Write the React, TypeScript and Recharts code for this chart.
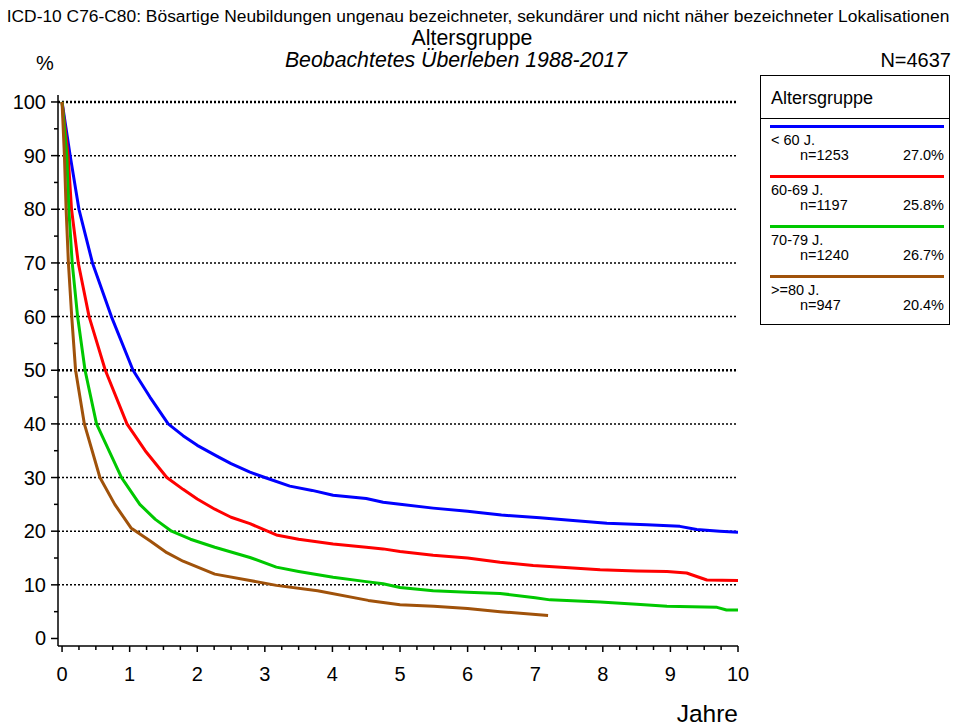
import React from 'react';
import { LineChart, Line, XAxis, YAxis, ReferenceLine } from 'recharts';

const FONT = '"Liberation Sans", Arial, Helvetica, sans-serif';

const tUnder60 = [0, 0.12, 0.25, 0.45, 0.73, 1.05, 1.3, 1.57, 1.79, 2.0, 2.29, 2.5, 2.78, 3.0, 3.37, 3.7, 4.01, 4.5, 4.75, 5.0, 5.49, 6.0, 6.23, 6.5, 7.07, 7.56, 8.06, 8.65, 9.14, 9.39, 9.73, 10];
const sUnder60 = [100, 90, 80, 70, 60, 50, 45, 40, 37.8, 36.0, 34.0, 32.6, 31, 30, 28.4, 27.6, 26.7, 26.1, 25.4, 25.0, 24.3, 23.7, 23.4, 23.0, 22.5, 22.0, 21.5, 21.2, 20.9, 20.3, 20.0, 19.8];

const t60to69 = [0, 0.09, 0.14, 0.24, 0.4, 0.64, 0.96, 1.23, 1.55, 1.79, 2.0, 2.26, 2.5, 2.78, 3.17, 3.5, 4.01, 4.5, 4.75, 5.0, 5.49, 6.0, 6.48, 6.97, 7.5, 7.96, 8.5, 8.95, 9.24, 9.4, 9.54, 10];
const s60to69 = [100, 90, 80, 70, 60, 50, 40, 35, 30, 27.8, 26, 24.1, 22.6, 21.4, 19.3, 18.5, 17.6, 17.0, 16.7, 16.2, 15.5, 15.0, 14.2, 13.6, 13.2, 12.8, 12.6, 12.5, 12.2, 11.5, 10.9, 10.8];

const t70to79 = [0, 0.07, 0.1, 0.15, 0.23, 0.34, 0.51, 0.88, 1.15, 1.38, 1.62, 1.9, 2.26, 2.78, 3.17, 3.5, 4.01, 4.5, 4.75, 5.0, 5.49, 6.0, 6.48, 7.0, 7.22, 7.96, 8.5, 8.95, 9.69, 9.83, 10];
const s70to79 = [100, 90, 80, 70, 60, 50, 40, 30, 25, 22.2, 20, 18.5, 17.0, 15.1, 13.3, 12.5, 11.4, 10.6, 10.2, 9.5, 8.9, 8.6, 8.4, 7.6, 7.2, 6.8, 6.4, 6.0, 5.8, 5.3, 5.3];

const t80plus = [0, 0.035, 0.06, 0.094, 0.143, 0.2, 0.33, 0.56, 0.78, 1.02, 1.3, 1.55, 1.79, 2.26, 2.78, 3.17, 3.78, 4.53, 5.0, 5.5, 6.0, 6.48, 7.19];
const s80plus = [100, 90, 80, 70, 60, 50, 40, 30, 25, 20.6, 18.2, 16.0, 14.4, 12.0, 10.8, 9.9, 8.9, 7.1, 6.3, 6.0, 5.6, 5.0, 4.3];

const groups = ['< 60 J.', '60-69 J.', '70-79 J.', '>=80 J.'];
const groupN = [1253, 1197, 1240, 947];
const groupPct = ['27.0%', '25.8%', '26.7%', '20.4%'];
const colors = ['#0000ff', '#ff0000', '#00c800', '#a0520a'];

const yTicks = [0, 5, 10, 15, 20, 25, 30, 35, 40, 45, 50, 55, 60, 65, 70, 75, 80, 85, 90, 95, 100];
const gridLines = [10, 20, 30, 40, 50, 60, 70, 80, 90, 100];
const xTicks = Array.from({ length: 41 }, (_, i) => i / 4);

const toRows = (t: number[], s: number[]) => t.map((v, i) => ({ t: v, s: s[i] }));
const series = [
  toRows(tUnder60, sUnder60),
  toRows(t60to69, s60to69),
  toRows(t70to79, s70to79),
  toRows(t80plus, s80plus),
];

const YTick = (props: any) => {
  const { x, y, payload } = props;
  const major = payload.value % 10 === 0;
  return (
    <g>
      <line x1={x - (major ? 7 : 4)} x2={x} y1={y} y2={y} stroke="#000" strokeWidth={1.5} />
      {major && (
        <text x={x - 12} y={y} dy={7} textAnchor="end" fontSize={20} fontFamily={FONT} fill="#000">
          {payload.value}
        </text>
      )}
    </g>
  );
};

const XTick = (props: any) => {
  const { x, y, payload } = props;
  const major = Number.isInteger(payload.value);
  return (
    <g>
      <line x1={x} x2={x} y1={y} y2={y + (major ? 6 : 4)} stroke="#000" strokeWidth={1.5} />
      {major && (
        <text x={x} y={y + 35} textAnchor="middle" fontSize={20} fontFamily={FONT} fill="#000">
          {payload.value}
        </text>
      )}
    </g>
  );
};

const LegendBox = () => (
  <div
    style={{
      position: 'absolute',
      left: 760,
      top: 75,
      width: 190,
      height: 250,
      border: '1.5px solid #000',
      fontFamily: FONT,
      color: '#000',
      background: '#fff',
      boxSizing: 'border-box',
    }}
  >
    <div style={{ height: 42, borderBottom: '1.5px solid #000', fontSize: 18, paddingLeft: 10, lineHeight: '44px' }}>
      Altersgruppe
    </div>
    {groups.map((g, i) => (
      <div key={g} style={{ position: 'relative', height: 50 }}>
        <div style={{ position: 'absolute', left: 9, right: 5, top: 6, height: 3, background: colors[i] }} />
        <div style={{ position: 'absolute', left: 10, top: 14, fontSize: 14.5, lineHeight: '14px' }}>{g}</div>
        <div style={{ position: 'absolute', left: 39, top: 29, fontSize: 14.5, lineHeight: '14px' }}>n={groupN[i]}</div>
        <div style={{ position: 'absolute', right: 5, top: 29, fontSize: 14.5, lineHeight: '14px' }}>{groupPct[i]}</div>
      </div>
    ))}
  </div>
);

export default function App() {
  return (
    <div style={{ position: 'absolute', left: 0, top: 0, width: 955, height: 726, background: '#fff' }}>
      <LineChart width={955} height={726} margin={{ top: 95, right: 217, left: 8, bottom: 40 }}>
        <XAxis
          type="number"
          dataKey="t"
          domain={[-0.06, 10]}
          ticks={xTicks}
          interval={0}
          allowDataOverflow
          height={40}
          tickSize={0}
          tickMargin={0}
          tickLine={false}
          tick={<XTick />}
          axisLine={{ stroke: '#000', strokeWidth: 1.5 }}
        />
        <YAxis
          type="number"
          domain={[-1.4, 101.3]}
          ticks={yTicks}
          interval={0}
          allowDataOverflow
          width={50}
          tickSize={0}
          tickMargin={0}
          tickLine={false}
          tick={<YTick />}
          axisLine={{ stroke: '#000', strokeWidth: 1.5 }}
        />
        {gridLines.map((v) => (
          <ReferenceLine
            key={v}
            y={v}
            stroke="#000"
            strokeWidth={v === 50 || v === 100 ? 2.5 : 1.5}
            strokeDasharray="2 2"
          />
        ))}
        {series.map((rows, i) => (
          <Line
            key={groups[i]}
            data={rows}
            dataKey="s"
            name={groups[i]}
            type="linear"
            stroke={colors[i]}
            strokeWidth={3}
            strokeLinejoin="round"
            dot={false}
            activeDot={false}
            isAnimationActive={false}
          />
        ))}
      </LineChart>
      <LegendBox />
      <svg
        width={955}
        height={726}
        style={{ position: 'absolute', left: 0, top: 0, pointerEvents: 'none' }}
        fontFamily={FONT}
      >
        <text x={478} y={22} textAnchor="middle" fontSize={17.4}>
          ICD-10 C76-C80: Bösartige Neubildungen ungenau bezeichneter, sekundärer und nicht näher bezeichneter Lokalisationen
        </text>
        <text x={472} y={45} textAnchor="middle" fontSize={21.3}>Altersgruppe</text>
        <text x={456} y={67} textAnchor="middle" fontSize={21.3} fontStyle="italic">
          Beobachtetes Überleben 1988-2017
        </text>
        <text x={45} y={70} textAnchor="middle" fontSize={20}>%</text>
        <text x={951} y={67} textAnchor="end" fontSize={20}>N=4637</text>
        <text x={738} y={722} textAnchor="end" fontSize={24.5}>Jahre</text>
      </svg>
    </div>
  );
}
